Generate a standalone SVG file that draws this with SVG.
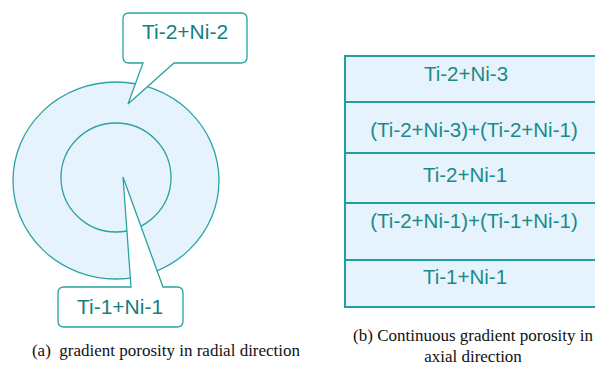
<svg xmlns="http://www.w3.org/2000/svg" width="595" height="367" viewBox="0 0 595 367">
<style>
.shape{fill:#e6f3fc;stroke:#2aa3a3;stroke-width:1.3}
.call{fill:#ffffff;stroke:#2aa3a3;stroke-width:1.3;stroke-linejoin:miter}
.lbl{font-family:"Liberation Sans",Arial,sans-serif;font-size:20.5px;fill:#1a8a8a;text-anchor:middle}
.big{font-size:21px;fill:#137f7f}
.cap{font-family:"Liberation Serif","Times New Roman",serif;font-size:17px;fill:#111;text-anchor:middle;white-space:pre}
.band{fill:#e6f3fc;stroke:#1ea0a0;stroke-width:2}
</style>
<rect width="595" height="367" fill="#ffffff"/>
<g id="outer-ring"><ellipse class="shape" cx="116" cy="180.5" rx="103" ry="98.5"/></g>
<g id="inner-core"><ellipse class="shape" cx="116" cy="177.5" rx="55" ry="54.5"/></g>
<g id="callout-top">
<path class="call" d="M129,13 H241 Q247,13 247,19 V57 Q247,63 241,63 H174 L128,104 L143,63 H129 Q123,63 123,57 V19 Q123,13 129,13 Z"/>
<text class="lbl big" x="185" y="39">Ti-2+Ni-2</text>
</g>
<g id="callout-bottom">
<path class="call" d="M64,287 H131 L123,177 L163,287 H177 Q183,287 183,293 V321 Q183,327 177,327 H64 Q58,327 58,321 V293 Q58,287 64,287 Z"/>
<text class="lbl big" x="120" y="314">Ti-1+Ni-1</text>
</g>
<text class="cap" x="166" y="356" xml:space="preserve">(a)  gradient porosity in radial direction</text>
<g id="axial-stack">
<rect class="band" x="345" y="56" width="260" height="46"/>
<rect class="band" x="345" y="102" width="260" height="51"/>
<rect class="band" x="345" y="153" width="260" height="50"/>
<rect class="band" x="345" y="203" width="260" height="57"/>
<rect class="band" x="345" y="260" width="260" height="47"/>
<text class="lbl" x="466" y="81">Ti-2+Ni-3</text>
<text class="lbl" x="474" y="137">(Ti-2+Ni-3)+(Ti-2+Ni-1)</text>
<text class="lbl" x="465" y="182">Ti-2+Ni-1</text>
<text class="lbl" x="474" y="228">(Ti-2+Ni-1)+(Ti-1+Ni-1)</text>
<text class="lbl" x="465" y="284">Ti-1+Ni-1</text>
</g>
<text class="cap" x="473" y="341">(b) Continuous gradient porosity in</text>
<text class="cap" x="473" y="362">axial direction</text>
</svg>
